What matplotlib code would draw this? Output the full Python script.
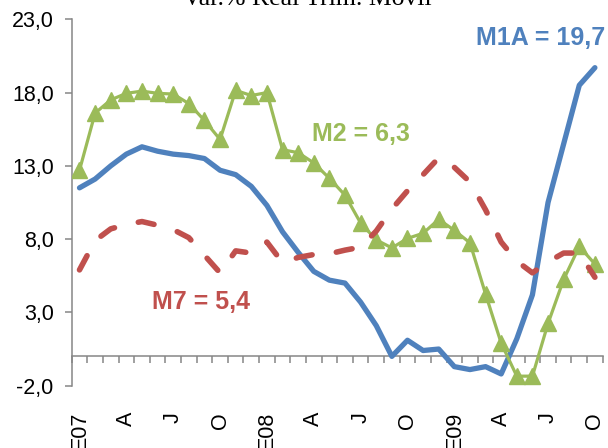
import numpy as np
import matplotlib
matplotlib.use("Agg")
import matplotlib.pyplot as plt
from matplotlib.ticker import FuncFormatter

# Monthly series, Jan 2007 - Oct 2009 (real % change, moving quarter)
m1a = [11.5, 12.1, 13.0, 13.8, 14.3, 14.0, 13.8, 13.7, 13.5, 12.7, 12.4, 11.6,
       10.3, 8.5, 7.1, 5.8, 5.2, 5.0, 3.7, 2.1, 0.0, 1.1, 0.4, 0.5,
       -0.7, -0.9, -0.7, -1.2, 1.2, 4.2, 10.5, 14.5, 18.5, 19.7]
m2 = [12.7, 16.6, 17.5, 17.95, 18.1, 17.95, 17.9, 17.25, 16.1, 14.8, 18.15, 17.8,
      18.0, 14.1, 13.9, 13.2, 12.15, 11.0, 9.1, 7.95, 7.4, 8.05, 8.4, 9.35,
      8.6, 7.75, 4.25, 0.9, -1.35, -1.35, 2.25, 5.25, 7.5, 6.3]
m7 = [5.9, 7.9, 8.7, 9.0, 9.2, 8.95, 8.65, 8.1, 6.9, 5.7, 7.2, 7.05,
      7.8, 6.4, 6.75, 6.95, 7.0, 7.25, 7.45, 8.55, 10.05, 11.3, 12.4, 13.55,
      12.9, 11.9, 10.0, 7.8, 6.5, 5.7, 6.45, 7.05, 7.05, 5.4]
month_labels = ["E07", "A", "J", "O", "E08", "A", "J", "O", "E09", "A", "J", "O"]
y_ticks = [-2, 3, 8, 13, 18, 23]

BLUE = "#4F81BD"
GREEN = "#9BBB59"
RED = "#C0504D"
AXIS = "#868686"

plt.rcParams["font.family"] = ["Liberation Sans", "DejaVu Sans"]

fig = plt.figure(figsize=(6.08, 4.48), dpi=100)
ax = fig.add_axes([0.1179, 0.1391, 0.8734, 0.8178])

n = len(m1a)
x = np.arange(n)

ax.plot(x, m1a, color=BLUE, lw=3.8, solid_capstyle="round",
        solid_joinstyle="round", zorder=3)
ax.plot(x, m2, color=GREEN, lw=2.3, marker="^", ms=11, mec=GREEN, mfc=GREEN,
        zorder=4)
ax.plot(x, m7, color=RED, lw=4, dashes=(2.9, 4.4), dash_capstyle="round",
        zorder=5)

ax.set_xlim(-0.5, n - 0.5)
ax.set_ylim(y_ticks[0], y_ticks[-1])

# y axis
ax.set_yticks(y_ticks)
ax.yaxis.set_major_formatter(FuncFormatter(lambda v, p: f"{v:.1f}".replace(".", ",")))
ax.tick_params(axis="y", direction="out", length=5, width=1.1, color=AXIS,
               labelsize=15.5, pad=8)

# category axis drawn through zero
for s in ("top", "right"):
    ax.spines[s].set_visible(False)
ax.spines["left"].set_color(AXIS)
ax.spines["left"].set_linewidth(1.1)
ax.spines["bottom"].set_position(("data", 0))
ax.spines["bottom"].set_color(AXIS)
ax.spines["bottom"].set_linewidth(1.1)
ax.set_xticks(np.arange(-0.5, n, 1.0))
ax.tick_params(axis="x", direction="out", length=5, width=1.1, color=AXIS,
               labelbottom=False)

# month labels along the bottom of the plot
sec = ax.secondary_xaxis("bottom")
sec.set_xticks(x[::3], month_labels)
sec.spines["bottom"].set_visible(False)
sec.tick_params(length=0, pad=19, labelsize=15.5)
for lab in sec.get_xticklabels():
    lab.set_rotation(90)

# series annotations
ax.text(25.4, 21.7, f"M1A = {m1a[-1]:.1f}".replace(".", ","), color=BLUE,
        fontsize=18, fontweight="bold", ha="left", va="center", clip_on=False)
ax.text(14.87, 15.18, f"M2 = {m2[-1]:.1f}".replace(".", ","), color=GREEN,
        fontsize=18, fontweight="bold", ha="left", va="center")
ax.text(4.63, 3.74, f"M7 = {m7[-1]:.1f}".replace(".", ","), color=RED,
        fontsize=18, fontweight="bold", ha="left", va="center")

fig.text(307 / 608, 1 - 5 / 448, "Var.% Real Trim. Movil", ha="center",
         va="baseline", fontsize=18.5, family=["Liberation Serif", "DejaVu Serif"])

fig.savefig("out.png", dpi=100)
